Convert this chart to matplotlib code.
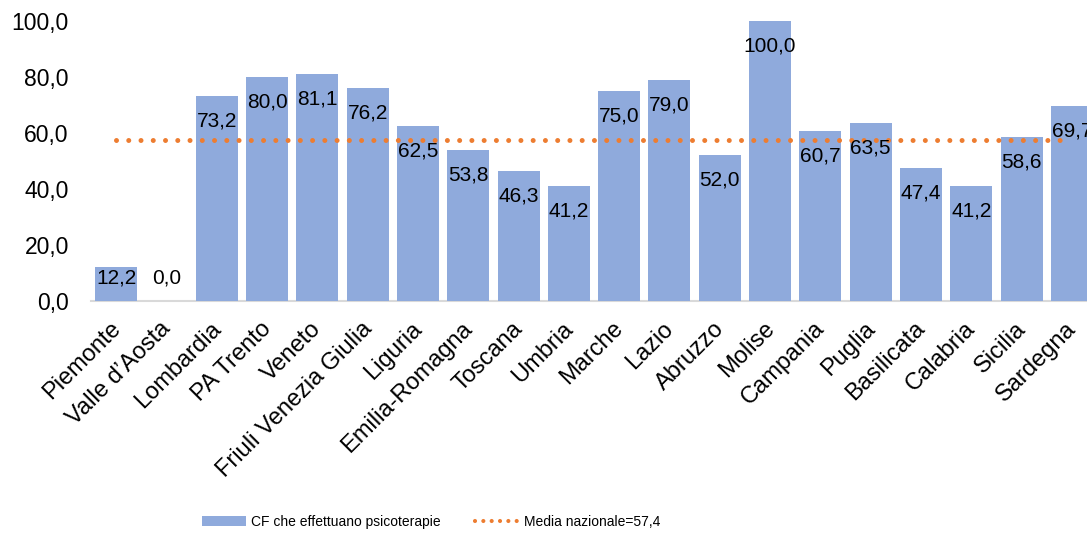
import matplotlib
matplotlib.use("Agg")
import matplotlib.pyplot as plt
import matplotlib.transforms as mtransforms
from matplotlib.lines import Line2D
from matplotlib.patches import Patch
from matplotlib.ticker import FuncFormatter

plt.rcParams["font.family"] = ["Liberation Sans", "DejaVu Sans"]

# ── Data ───────────────────────────────────────────────────────────────────────
regioni = ["Piemonte", "Valle d’Aosta", "Lombardia", "PA Trento", "Veneto",
           "Friuli Venezia Giulia", "Liguria", "Emilia-Romagna", "Toscana", "Umbria",
           "Marche", "Lazio", "Abruzzo", "Molise", "Campania", "Puglia",
           "Basilicata", "Calabria", "Sicilia", "Sardegna"]
cf_psicoterapia = [12.2, 0.0, 73.2, 80.0, 81.1, 76.2, 62.5, 53.8, 46.3, 41.2,
                   75.0, 79.0, 52.0, 100.0, 60.7, 63.5, 47.4, 41.2, 58.6, 69.7]
media_nazionale = 57.4
y_ticks = [0, 20, 40, 60, 80, 100]

BAR_COLOR = "#8FAADC"
LINE_COLOR = "#ED7D31"


def virgola(v):
    return f"{v:.1f}".replace(".", ",")


# ── Figure ─────────────────────────────────────────────────────────────────────
fig = plt.figure(figsize=(10.87, 5.33), dpi=100)
# plot area runs slightly past the right border, so the last bar is cut
ax = fig.add_axes([91 / 1087, 1 - 301 / 533, 1006 / 1087, 280 / 533])

x = list(range(len(regioni)))
ax.bar(x, cf_psicoterapia, width=0.835, color=BAR_COLOR, zorder=2)

ax.plot([x[0], x[-1] - 0.2], [media_nazionale, media_nazionale], color=LINE_COLOR,
        lw=3.6, dashes=(0.001, 2.45), dash_capstyle="round", zorder=3)

for xi, v in zip(x, cf_psicoterapia):
    ax.text(xi, max(v - 8.9, 8.2), virgola(v), ha="center", va="center",
            fontsize=15, color="black", zorder=4)

ax.set_xlim(-0.5, len(regioni) - 0.5)
ax.set_ylim(0, 100)
ax.set_yticks(y_ticks)
ax.yaxis.set_major_formatter(FuncFormatter(lambda v, _: virgola(v)))
ax.tick_params(axis="y", length=0, pad=16, labelsize=16.5)
ax.set_xticks(x)
ax.set_xticklabels(regioni, rotation=45, ha="right", rotation_mode="anchor",
                   fontsize=17)
ax.tick_params(axis="x", length=0, pad=12)
shift = mtransforms.ScaledTranslation(-7 / 100, 0, fig.dpi_scale_trans)
for lbl in ax.get_xticklabels():
    lbl.set_transform(lbl.get_transform() + shift)

for side in ["top", "right", "left"]:
    ax.spines[side].set_visible(False)
ax.spines["bottom"].set_color("#D9D9D9")
ax.spines["bottom"].set_linewidth(1.5)
ax.spines["bottom"].set_zorder(1)

handles = [
    Patch(facecolor=BAR_COLOR, edgecolor="none"),
    Line2D([], [], color=LINE_COLOR, lw=3.0, dashes=(0.001, 2.0),
           dash_capstyle="round"),
]
fig.legend(handles, ["CF che effettuano psicoterapie", "Media nazionale=57,4"],
           loc="center", bbox_to_anchor=(431 / 1087, 1 - 522 / 533), ncol=2,
           frameon=False, fontsize=10, handlelength=3.17, handletextpad=0.36,
           columnspacing=2.5, borderpad=0, borderaxespad=0)

fig.savefig("out.png", dpi=100, facecolor="white")
